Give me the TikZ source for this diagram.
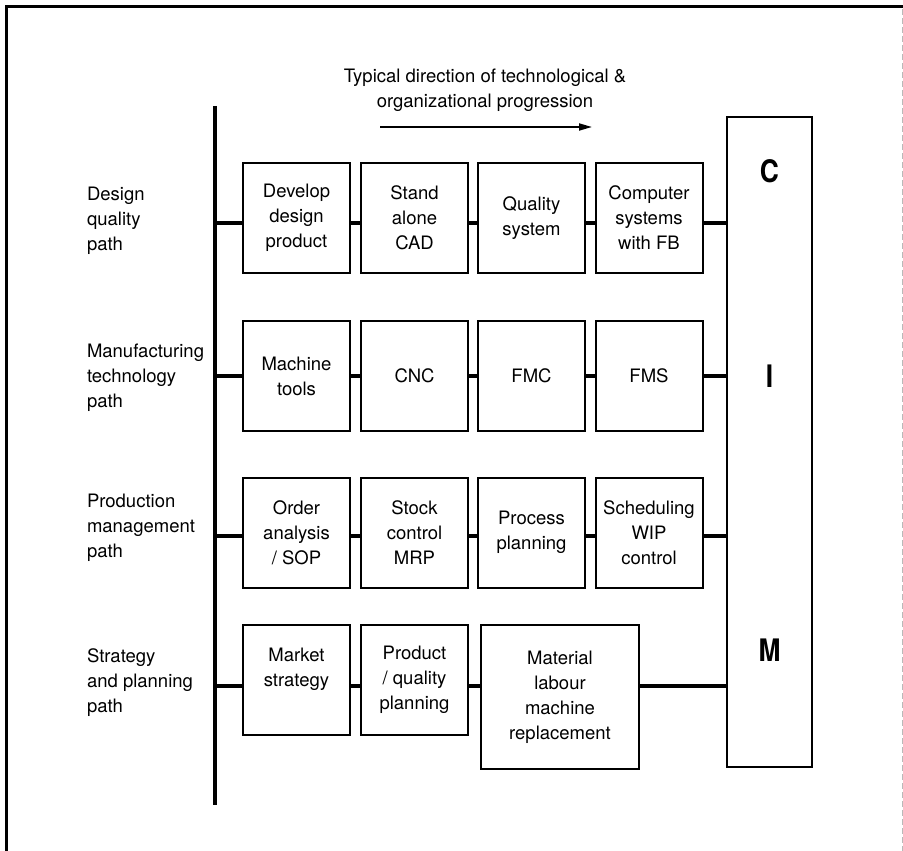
\documentclass[tikz,border=0pt]{standalone}
\usepackage{fontspec}
\setmainfont{TeX Gyre Heros}
\usetikzlibrary{arrows.meta}
\begin{document}
\begin{tikzpicture}[x=1pt,y=-1pt,
  every node/.style={inner sep=0pt, outer sep=0pt},
  txt/.style={font=\fontsize{18.5}{25}\selectfont, align=center},
  lbl/.style={font=\fontsize{18.5}{25}\selectfont, align=left, anchor=west},
  stage/.style={draw, line width=2pt, minimum width=107pt, minimum height=110pt, txt},
  letter/.style={font=\fontsize{31}{34}\bfseries\selectfont, xscale=0.85},
  link/.style={line width=4pt},
  frame/.style={line width=3pt}]
\useasboundingbox (0,0) rectangle (903,851);

% outer frame
\draw[frame] (6,851) -- (6,7) -- (903,7);
\draw[gray!55, line width=0.8pt, dash pattern=on 6pt off 3pt] (902,9) -- (902,851);

% heading and direction arrow
\node[txt, anchor=base] (head1) at (485,82) {Typical direction of technological \&};
\node[txt, anchor=base] (head2) at (485,107) {organizational progression};
\coordinate (arrS) at (380,127);
\coordinate (arrE) at (592,127);
\draw[line width=1.8pt, -{Triangle[length=13pt,width=7pt]}] (arrS) -- (arrE);

% common spine
\coordinate (barTop) at (215,106);
\coordinate (barBot) at (215,805);
\draw[line width=4.5pt] (barTop) -- (barBot);

% row heights of the connectors
\coordinate (y1) at (0,223);
\coordinate (y2) at (0,376);
\coordinate (y3) at (0,536);
\coordinate (y4) at (0,686);

% path labels
\node[lbl] (lab1) at (87,221) {Design\\quality\\path};
\node[lbl] (lab2) at (87,378) {Manufacturing\\technology\\path};
\node[lbl] (lab3) at (87,528) {Production\\management\\path};
\node[lbl] (lab4) at (87,683) {Strategy\\and planning\\path};

% CIM column
\node[draw, line width=2pt, minimum width=85pt, minimum height=650pt] (cim) at (769.5,442) {};
\node[letter] (cC) at (769.5,171) {C};
\node[letter] (cI) at (769.5,376) {I};
\node[letter] (cM) at (769.5,650) {M};

% design quality path
\node[stage] (d1) at (296.5,218) {Develop\\design\\product};
\node[stage] (d2) at (414.5,218) {Stand\\alone\\CAD};
\node[stage] (d3) at (531.5,218) {Quality\\system};
\node[stage] (d4) at (649,218) {Computer\\systems\\with FB};

% manufacturing technology path
\node[stage] (m1) at (296.5,376) {Machine\\tools};
\node[stage] (m2) at (414.5,376) {CNC};
\node[stage] (m3) at (531.5,376) {FMC};
\node[stage] (m4) at (649,376) {FMS};

% production management path
\node[stage] (p1) at (296.5,532.5) {Order\\analysis\\/ SOP};
\node[stage] (p2) at (414.5,532.5) {Stock\\control\\MRP};
\node[stage] (p3) at (531.5,532.5) {Process\\planning};
\node[stage] (p4) at (649,532.5) {Scheduling\\WIP\\control};

% strategy and planning path
\node[stage] (s1) at (296.5,679.5) {Market\\strategy\\\mbox{}};
\node[stage] (s2) at (414.5,679.5) {Product\\/ quality\\planning};
\node[stage, minimum width=158pt, minimum height=144pt] (s3) at (560,697) {Material\\labour\\machine\\replacement};

% connectors
\draw[link] (barTop |- y1) -- (d1.west |- y1);
\draw[link] (d1.east |- y1) -- (d2.west |- y1);
\draw[link] (d2.east |- y1) -- (d3.west |- y1);
\draw[link] (d3.east |- y1) -- (d4.west |- y1);
\draw[link] (d4.east |- y1) -- (cim.west |- y1);

\draw[link] (barTop |- y2) -- (m1.west |- y2);
\draw[link] (m1.east |- y2) -- (m2.west |- y2);
\draw[link] (m2.east |- y2) -- (m3.west |- y2);
\draw[link] (m3.east |- y2) -- (m4.west |- y2);
\draw[link] (m4.east |- y2) -- (cim.west |- y2);

\draw[link] (barTop |- y3) -- (p1.west |- y3);
\draw[link] (p1.east |- y3) -- (p2.west |- y3);
\draw[link] (p2.east |- y3) -- (p3.west |- y3);
\draw[link] (p3.east |- y3) -- (p4.west |- y3);
\draw[link] (p4.east |- y3) -- (cim.west |- y3);

\draw[link] (barTop |- y4) -- (s1.west |- y4);
\draw[link] (s1.east |- y4) -- (s2.west |- y4);
\draw[link] (s2.east |- y4) -- (s3.west |- y4);
\draw[link] (s3.east |- y4) -- (cim.west |- y4);
\end{tikzpicture}
\end{document}
